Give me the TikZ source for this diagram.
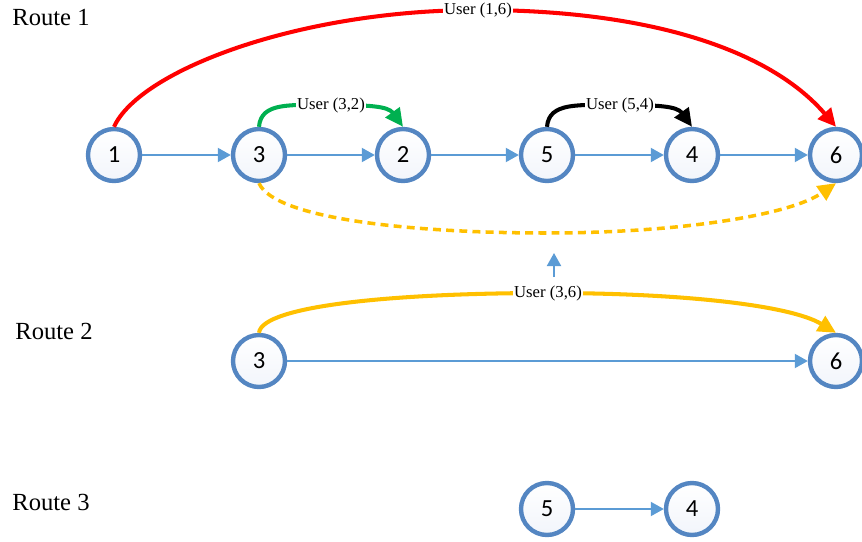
\documentclass[tikz,border=0pt]{standalone}
\usepackage{fontspec}
\setmainfont{Liberation Serif}
\newfontfamily\numfont{Carlito}
\usetikzlibrary{arrows.meta}

\definecolor{ringblue}{RGB}{84,134,194}
\definecolor{lineblue}{RGB}{91,155,213}
\definecolor{userred}{RGB}{255,0,0}
\definecolor{usergreen}{RGB}{0,176,80}
\definecolor{useryellow}{RGB}{255,192,0}
\definecolor{stopfill}{RGB}{242,245,251}

\tikzset{
  stop/.style={circle, draw=ringblue, line width=2.5pt, minimum size=1.04cm, inner sep=0pt,
    top color=white, bottom color=stopfill, font=\numfont\fontsize{14}{14}\selectfont},
  hop/.style={draw=lineblue, line width=1.1pt, -{Triangle[length=0.26cm,width=0.28cm]}},
  user/.style={line width=2.3pt, -{Triangle[length=0.36cm,width=0.34cm]}},
  tag/.style={fill=white, text=black, inner sep=0.6pt, font=\fontsize{9.5}{9.5}\selectfont},
  route/.style={anchor=base west, inner sep=0pt, font=\fontsize{14}{14}\selectfont}
}

\begin{document}
\begin{tikzpicture}[x=0.02cm, y=-0.02cm]
\useasboundingbox (0,0) rectangle (862,541);

\node[route] (L1) at (12,26) {Route 1};
\node[route] (L2) at (15,339) {Route 2};
\node[route] (L3) at (12,510) {Route 3};

\node[stop] (A1) at (114,155) {1}; \node[stop] (A3) at (259,155) {3};
\node[stop] (A2) at (403,155) {2}; \node[stop] (A5) at (547,155) {5};
\node[stop] (A4) at (692,155) {4}; \node[stop] (A6) at (836,155) {6};
\node[stop] (B3) at (259,361) {3}; \node[stop] (B6) at (836,361) {6};
\node[stop] (C5) at (547,509) {5}; \node[stop] (C4) at (692,509) {4};

\draw[hop] (A1) -- (A3); \draw[hop] (A3) -- (A2); \draw[hop] (A2) -- (A5);
\draw[hop] (A5) -- (A4); \draw[hop] (A4) -- (A6);
\draw[hop] (B3) -- (B6);
\draw[hop] (C5) -- (C4);

\coordinate (UPa) at (554,277); \coordinate (UPb) at (554,253);
\draw[hop] (UPa) -- (UPb);

\draw[user, userred] (A1.north) .. controls (140,70) and (300,10) .. (478,10)
  node[tag] {User (1,6)} .. controls (650,10) and (770,50) .. (A6.north);
\draw[user, usergreen] (A3.north) .. controls (261,102) and (290,105) .. (331,105)
  node[tag] {User (3,2)} .. controls (368,105) and (388,106) .. (A2.north);
\draw[user, black] (A5.north) .. controls (549,102) and (578,105) .. (620,105)
  node[tag] {User (5,4)} .. controls (657,105) and (677,106) .. (A4.north);
\draw[user, useryellow, line width=2pt, dash pattern=on 4.5pt off 3pt]
  (A3.south) .. controls (275,220) and (420,233) .. (546,233)
  .. controls (680,233) and (790,215) .. (A6.south);
\draw[user, useryellow] (B3.north) .. controls (262,305) and (400,293) .. (548,293)
  node[tag] {User (3,6)} .. controls (680,293) and (790,305) .. (B6.north);

\end{tikzpicture}
\end{document}
